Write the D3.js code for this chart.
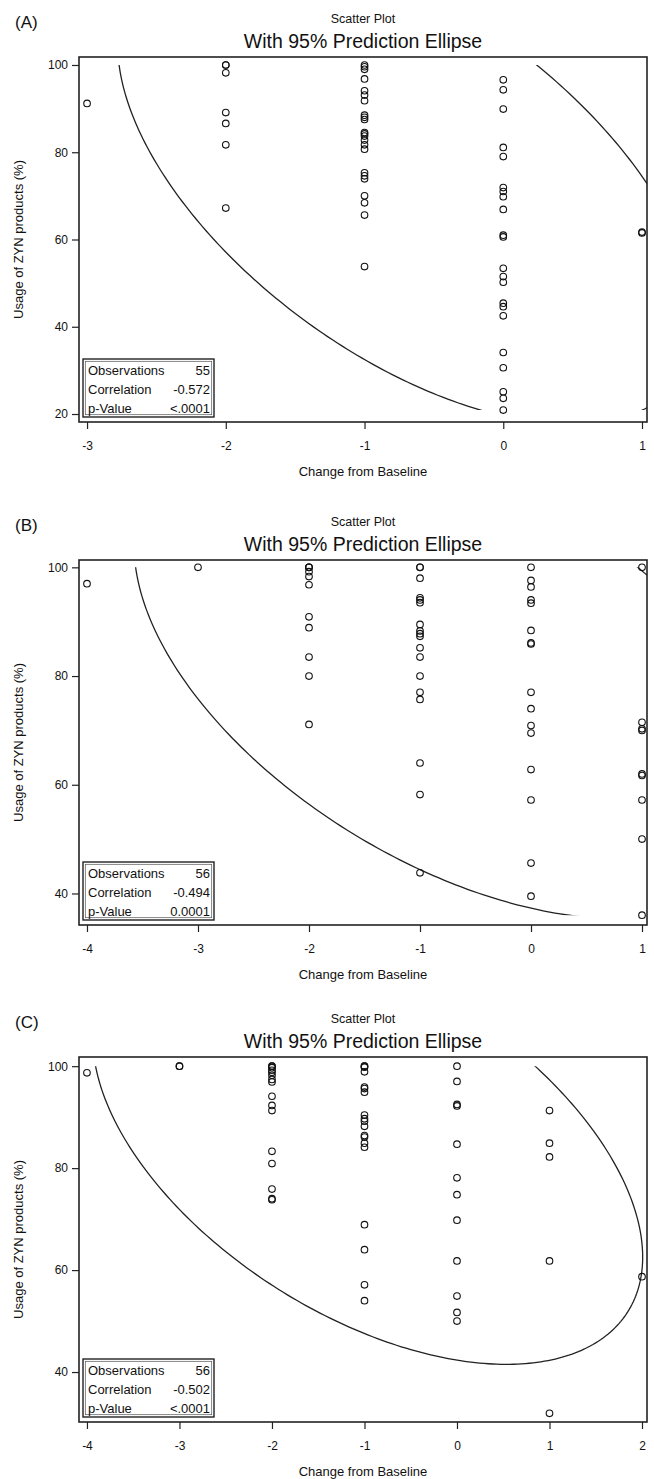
<!DOCTYPE html>
<html>
<head>
<meta charset="utf-8">
<script src="https://cdn.jsdelivr.net/npm/d3@7"></script>
<style>
  body { margin: 0; background: #fff; }
  text { font-family: "Liberation Sans", Arial, sans-serif; fill: #111; }
</style>
</head>
<body>
<div id="chart"></div>
<script>
// ---- data ----
// x = change from baseline (integer), each entry of usage is the list of y values in that column

var changeA = [-3, -2, -1, 0, 1];
var usageA = [
  [91.2],
  [100, 100, 98.2, 89.1, 86.6, 81.7, 67.2],
  [100, 99.6, 99.0, 96.8, 94.1, 93.1, 91.8, 88.5, 88.0, 87.5, 84.5, 84.2, 83.7, 82.8, 81.7, 80.7,
   75.3, 74.6, 73.9, 70.0, 68.4, 65.6, 53.8],
  [96.6, 94.3, 89.9, 81.1, 79.0, 71.9, 71.0, 69.8, 66.9, 61.0, 60.6, 53.4, 51.5, 50.2, 45.4, 44.6,
   42.5, 34.1, 30.6, 25.1, 23.6, 20.9],
  [61.7, 61.5]
];
var statsA = ["55", "-0.572", "<.0001"];

var changeB = [-4, -3, -2, -1, 0, 1];
var usageB = [
  [97.0],
  [100],
  [100, 100, 100, 99.2, 98.3, 96.8, 90.9, 88.9, 83.5, 80.0, 71.1],
  [100, 100, 98.0, 94.4, 94.0, 93.5, 89.5, 88.3, 87.8, 87.3, 85.2, 83.5, 80.0, 77.0, 75.7, 64.0, 58.2, 43.8],
  [100, 97.6, 96.4, 94.0, 93.4, 88.4, 86.1, 85.9, 77.0, 74.0, 70.9, 69.5, 62.8, 57.2, 45.6, 39.5],
  [100, 71.5, 70.3, 70.0, 62.0, 61.7, 57.2, 50.0, 36.0]
];
var statsB = ["56", "-0.494", "0.0001"];

var changeC = [-4, -3, -2, -1, 0, 1, 2];
var usageC = [
  [98.7],
  [100, 100],
  [100, 100, 99.7, 99.2, 98.8, 98.2, 97.4, 96.9, 94.1, 92.3, 91.3, 83.3, 80.9, 75.9, 74.0, 73.8],
  [100, 100, 99.8, 98.9, 95.9, 95.6, 94.9, 90.4, 89.7, 89.2, 88.2, 86.4, 86.1, 84.9, 84.1, 68.9, 64.0, 57.1, 54.0],
  [100, 97.0, 92.5, 92.2, 84.7, 78.1, 74.8, 69.8, 61.8, 54.9, 51.7, 50.0],
  [91.3, 84.9, 82.2, 61.8, 31.9],
  [58.7]
];
var statsC = ["56", "-0.502", "<.0001"];

var statLabels = ["Observations", "Correlation", "p-Value"];
var yTicks = [20, 40, 60, 80, 100];

// ---- layout ----
var W = 654, H = 1479;
var left = 79, right = 647, frameH = 365;

var panels = [
  { tag: "(A)", xs: changeA, ys: usageA, stats: statsA, top: 57,   xDom: [-3.058, 1.036], yDom: [18.17, 101.83] },
  { tag: "(B)", xs: changeB, ys: usageB, stats: statsB, top: 560,  xDom: [-4.072, 1.045], yDom: [34.2, 101.35] },
  { tag: "(C)", xs: changeC, ys: usageC, stats: statsC, top: 1057, xDom: [-4.086, 2.054], yDom: [30.2, 101.8] }
];

var svg = d3.select("#chart").append("svg")
    .attr("width", W)
    .attr("height", H)
    .style("display", "block");

// F(0.95; 2, m) has a closed form
function f2quant(p, m) { return (m / 2) * (Math.pow(1 - p, -2 / m) - 1); }

panels.forEach(function(p, i) {
  var pts = [];
  p.xs.forEach(function(xv, k) {
    p.ys[k].forEach(function(yv) { pts.push({ x: xv, y: yv }); });
  });

  var bottom = p.top + frameH;
  var x = d3.scaleLinear().domain(p.xDom).range([left, right]);
  var y = d3.scaleLinear().domain(p.yDom).range([bottom, p.top]);

  var g = svg.append("g");

  // titles
  g.append("text")
      .attr("x", 15).attr("y", p.top - 29.5)
      .style("font-size", "17px")
      .text(p.tag);
  g.append("text")
      .attr("x", (left + right) / 2).attr("y", p.top - 34.5)
      .attr("text-anchor", "middle")
      .style("font-size", "12.5px")
      .text("Scatter Plot");
  g.append("text")
      .attr("x", (left + right) / 2).attr("y", p.top - 9)
      .attr("text-anchor", "middle")
      .style("font-size", "19.5px")
      .text("With 95% Prediction Ellipse");

  // clip: points to the frame, ellipse to the vertical data range
  var yExt = d3.extent(pts, function(d) { return d.y; });
  g.append("clipPath").attr("id", "clipF" + i)
    .append("rect")
      .attr("x", left).attr("y", p.top)
      .attr("width", right - left).attr("height", frameH);
  g.append("clipPath").attr("id", "clipE" + i)
    .append("rect")
      .attr("x", left).attr("y", y(yExt[1]))
      .attr("width", right - left).attr("height", y(yExt[0]) - y(yExt[1]));

  // 95% prediction ellipse (SAS PROC CORR style)
  var n = pts.length;
  var mx = d3.mean(pts, function(d) { return d.x; }),
      my = d3.mean(pts, function(d) { return d.y; }),
      sx = d3.deviation(pts, function(d) { return d.x; }),
      sy = d3.deviation(pts, function(d) { return d.y; });
  var r = d3.sum(pts, function(d) { return (d.x - mx) * (d.y - my); }) / ((n - 1) * sx * sy);
  var c = 2 * (n + 1) * (n - 1) / (n * (n - 2)) * f2quant(0.95, n - 2);
  var k = Math.sqrt(c);
  var ell = d3.range(0, 361, 1).map(function(a) {
    var t = a * Math.PI / 180;
    return [mx + k * sx * Math.cos(t),
            my + k * sy * (r * Math.cos(t) + Math.sqrt(1 - r * r) * Math.sin(t))];
  });
  var line = d3.line()
      .x(function(d) { return x(d[0]); })
      .y(function(d) { return y(d[1]); });

  g.append("path")
      .datum(ell)
      .attr("clip-path", "url(#clipE" + i + ")")
      .attr("d", line)
      .attr("fill", "none")
      .attr("stroke", "#222")
      .attr("stroke-width", 1.3);

  // points
  g.append("g")
      .attr("clip-path", "url(#clipF" + i + ")")
    .selectAll("circle")
    .data(pts)
    .enter().append("circle")
      .attr("cx", function(d) { return x(d.x); })
      .attr("cy", function(d) { return y(d.y); })
      .attr("r", 3.3)
      .attr("fill", "none")
      .attr("stroke", "#111")
      .attr("stroke-width", 1.1);

  // axes (plain hyphen minus like the SAS output)
  var fmt = function(v) { return String(v); };
  var yAx = g.append("g")
      .attr("transform", "translate(" + left + ",0)")
      .call(d3.axisLeft(y).tickValues(yTicks.filter(function(v) { return v >= p.yDom[0]; }))
              .tickSize(7).tickPadding(4).tickFormat(fmt));
  var xAx = g.append("g")
      .attr("transform", "translate(0," + bottom + ")")
      .call(d3.axisBottom(x).tickValues(p.xs).tickSize(7).tickPadding(12).tickFormat(fmt));
  [yAx, xAx].forEach(function(a) {
    a.select(".domain").remove();
    a.selectAll("line").attr("stroke", "#222").attr("stroke-width", 1.2);
    a.selectAll("text").style("font-size", "12px").style("font-family", "\"Liberation Sans\", Arial, sans-serif").attr("fill", "#111");
  });

  // frame
  g.append("rect")
      .attr("x", left).attr("y", p.top)
      .attr("width", right - left).attr("height", frameH)
      .attr("fill", "none")
      .attr("stroke", "#222")
      .attr("stroke-width", 1.6);

  // axis titles
  g.append("text")
      .attr("x", (left + right) / 2).attr("y", bottom + 53.5)
      .attr("text-anchor", "middle")
      .style("font-size", "13px")
      .text("Change from Baseline");
  g.append("text")
      .attr("transform", "translate(23," + (p.top + frameH / 2) + ") rotate(-90)")
      .attr("text-anchor", "middle")
      .style("font-size", "13px")
      .text("Usage of ZYN products (%)");

  // inset stats box
  var bx = 83, bw = 131, bh = 58, bb = bottom - 5;
  g.append("rect")
      .attr("x", bx).attr("y", bb - bh).attr("width", bw).attr("height", bh)
      .attr("fill", "#fff").attr("stroke", "#222").attr("stroke-width", 1.4);
  g.append("rect")
      .attr("x", bx + 2.3).attr("y", bb - bh + 2.3).attr("width", bw - 4.6).attr("height", bh - 4.6)
      .attr("fill", "none").attr("stroke", "#555").attr("stroke-width", 0.7);
  statLabels.forEach(function(lab, j) {
    var by = bb - 42.3 + j * 19;
    g.append("text").attr("x", bx + 5).attr("y", by)
        .style("font-size", "13px").text(lab);
    g.append("text").attr("x", bx + bw - 4).attr("y", by)
        .attr("text-anchor", "end")
        .style("font-size", "13px").text(p.stats[j]);
  });
});
</script>
</body>
</html>
